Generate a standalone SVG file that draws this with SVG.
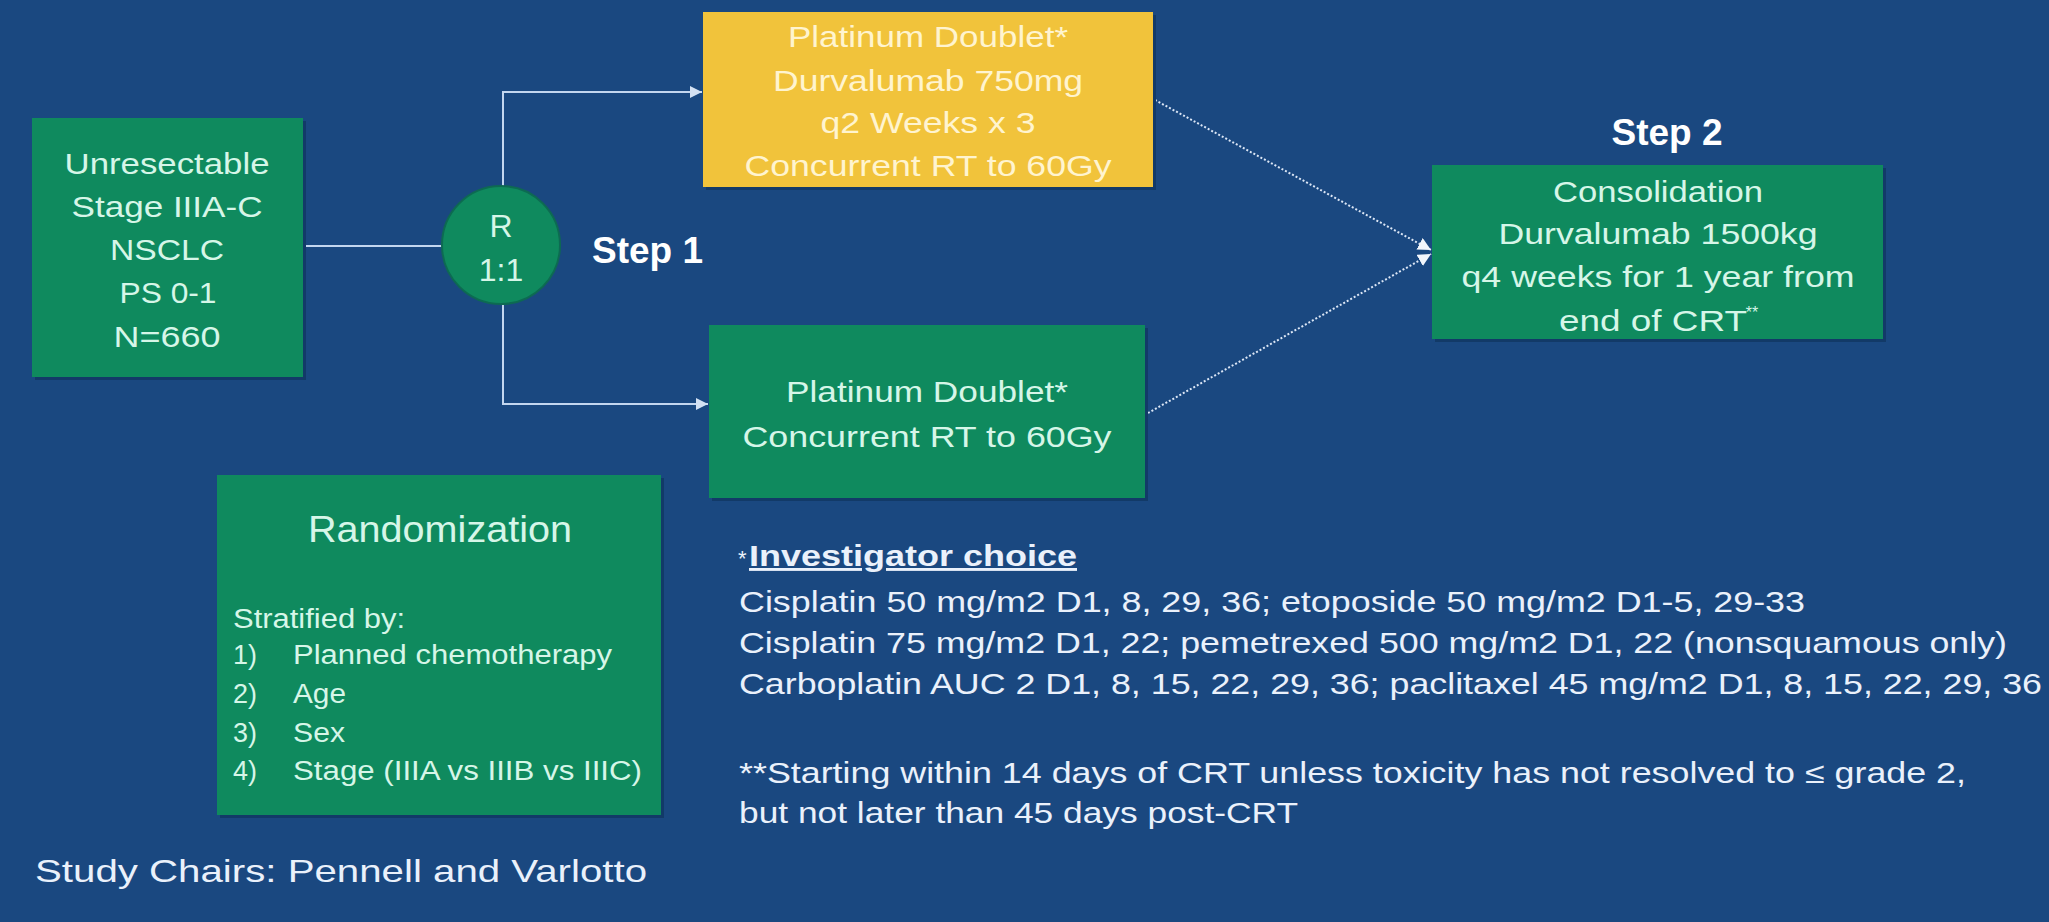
<svg xmlns="http://www.w3.org/2000/svg" width="2049" height="922" viewBox="0 0 2049 922">
  <style>
    .bg { fill: #1a4880; }
    .shadow { fill: #123a68; }
    .green { fill: #0f8a5e; }
    .yellow { fill: #f1c33b; }
    .t { font-family: "Liberation Sans", Arial, sans-serif; }
    .gt { fill: #d6f6e8; font-size: 30px; text-anchor: middle; }
    .yt { fill: #fff4cf; font-size: 30px; text-anchor: middle; }
    .step { fill: #ffffff; font-size: 37px; font-weight: bold; }
    .rt { fill: #d6f6e8; font-size: 32px; text-anchor: middle; }
    .lt { fill: #d6f6e8; font-size: 27px; }
    .note { fill: #eaf1fb; font-size: 29px; }
    .chairs { fill: #eaf1fb; font-size: 32px; }
    .conn { fill: none; stroke: #c3d6ef; stroke-width: 2; }
    .dot { fill: none; stroke: #dbe6f5; stroke-width: 2; stroke-dasharray: 2 2; }
  </style>
  <defs>
    <marker id="arr" viewBox="0 0 10 10" refX="10" refY="5" markerWidth="13" markerHeight="12" markerUnits="userSpaceOnUse" orient="auto">
      <path d="M0,0 L10,5 L0,10 z" fill="#d3e1f3"/>
    </marker>
    <marker id="arrw" viewBox="0 0 10 10" refX="10" refY="5" markerWidth="13" markerHeight="13" markerUnits="userSpaceOnUse" orient="auto">
      <path d="M0,0 L10,5 L0,10 z" fill="#f2f6fc"/>
    </marker>
  </defs>

  <rect class="bg" x="0" y="0" width="2049" height="922"/>

  <g id="connectors">
    <line class="conn" x1="303" y1="246" x2="442" y2="246"/>
    <polyline class="conn" points="503,186 503,92 702,92" marker-end="url(#arr)"/>
    <polyline class="conn" points="503,304 503,404 708,404" marker-end="url(#arr)"/>
    <line class="dot" x1="1155" y1="100" x2="1431" y2="250" marker-end="url(#arrw)"/>
    <line class="dot" x1="1148" y1="413" x2="1431" y2="254" marker-end="url(#arrw)"/>
  </g>

  <g id="node-population" class="t">
    <rect class="shadow" x="35" y="121" width="271" height="259"/>
    <rect class="green" x="32" y="118" width="271" height="259"/>
    <text class="gt" x="167" y="174" textLength="205" lengthAdjust="spacingAndGlyphs">Unresectable</text>
    <text class="gt" x="167" y="217" textLength="191" lengthAdjust="spacingAndGlyphs">Stage IIIA-C</text>
    <text class="gt" x="167" y="260" textLength="114" lengthAdjust="spacingAndGlyphs">NSCLC</text>
    <text class="gt" x="168" y="303" textLength="97" lengthAdjust="spacingAndGlyphs">PS 0-1</text>
    <text class="gt" x="167" y="347" textLength="107" lengthAdjust="spacingAndGlyphs">N=660</text>
  </g>

  <g id="node-randomize" class="t">
    <circle cx="501" cy="245" r="59" class="green" stroke="#0d6a52" stroke-width="2"/>
    <text class="rt" x="501" y="237">R</text>
    <text class="rt" x="501" y="281">1:1</text>
  </g>

  <g id="label-step1" class="t">
    <text class="step" x="592" y="263">Step 1</text>
  </g>

  <g id="node-arm-a" class="t">
    <rect class="shadow" x="706" y="15" width="450" height="175"/>
    <rect class="yellow" x="703" y="12" width="450" height="175"/>
    <text class="yt" x="928" y="47" textLength="280" lengthAdjust="spacingAndGlyphs">Platinum Doublet*</text>
    <text class="yt" x="928" y="91" textLength="310" lengthAdjust="spacingAndGlyphs">Durvalumab 750mg</text>
    <text class="yt" x="928" y="133" textLength="215" lengthAdjust="spacingAndGlyphs">q2 Weeks x 3</text>
    <text class="yt" x="928" y="176" textLength="367" lengthAdjust="spacingAndGlyphs">Concurrent RT to 60Gy</text>
  </g>

  <g id="node-arm-b" class="t">
    <rect class="shadow" x="712" y="328" width="436" height="173"/>
    <rect class="green" x="709" y="325" width="436" height="173"/>
    <text class="gt" x="927" y="402" textLength="282" lengthAdjust="spacingAndGlyphs">Platinum Doublet*</text>
    <text class="gt" x="927" y="447" textLength="369" lengthAdjust="spacingAndGlyphs">Concurrent RT to 60Gy</text>
  </g>

  <g id="label-step2" class="t">
    <text class="step" x="1667" y="145" text-anchor="middle">Step 2</text>
  </g>

  <g id="node-consolidation" class="t">
    <rect class="shadow" x="1435" y="168" width="451" height="174"/>
    <rect class="green" x="1432" y="165" width="451" height="174"/>
    <text class="gt" x="1658" y="202" textLength="210" lengthAdjust="spacingAndGlyphs">Consolidation</text>
    <text class="gt" x="1658" y="244" textLength="319" lengthAdjust="spacingAndGlyphs">Durvalumab 1500kg</text>
    <text class="gt" x="1658" y="287" textLength="393" lengthAdjust="spacingAndGlyphs">q4 weeks for 1 year from</text>
    <text class="gt" x="1653" y="331" textLength="188" lengthAdjust="spacingAndGlyphs">end of CRT</text>
    <text class="gt" x="1752" y="318" style="font-size:16px">**</text>
  </g>

  <g id="node-stratification" class="t">
    <rect class="shadow" x="220" y="478" width="444" height="340"/>
    <rect class="green" x="217" y="475" width="444" height="340"/>
    <text class="gt" x="440" y="542" style="font-size:37px" textLength="264" lengthAdjust="spacingAndGlyphs">Randomization</text>
    <text class="lt" x="233" y="628" textLength="172" lengthAdjust="spacingAndGlyphs">Stratified by:</text>
    <text class="lt" x="233" y="664">1)</text>
    <text class="lt" x="293" y="664" textLength="319" lengthAdjust="spacingAndGlyphs">Planned chemotherapy</text>
    <text class="lt" x="233" y="703">2)</text>
    <text class="lt" x="293" y="703" textLength="53" lengthAdjust="spacingAndGlyphs">Age</text>
    <text class="lt" x="233" y="742">3)</text>
    <text class="lt" x="293" y="742" textLength="52" lengthAdjust="spacingAndGlyphs">Sex</text>
    <text class="lt" x="233" y="780">4)</text>
    <text class="lt" x="293" y="780" textLength="349" lengthAdjust="spacingAndGlyphs">Stage (IIIA vs IIIB vs IIIC)</text>
  </g>

  <g id="study-chairs" class="t">
    <text class="chairs" x="35" y="882" textLength="612" lengthAdjust="spacingAndGlyphs">Study Chairs: Pennell and Varlotto</text>
  </g>

  <g id="footnotes" class="t">
    <text class="note" x="738" y="566" style="font-size:22px">*</text>
    <text class="note" x="749" y="566" style="font-weight:bold;text-decoration:underline" textLength="328" lengthAdjust="spacingAndGlyphs">Investigator choice</text>
    <text class="note" x="739" y="612" textLength="1066" lengthAdjust="spacingAndGlyphs">Cisplatin 50 mg/m2 D1, 8, 29, 36; etoposide 50 mg/m2 D1-5, 29-33</text>
    <text class="note" x="739" y="653" textLength="1268" lengthAdjust="spacingAndGlyphs">Cisplatin 75 mg/m2 D1, 22; pemetrexed 500 mg/m2 D1, 22 (nonsquamous only)</text>
    <text class="note" x="739" y="694" textLength="1303" lengthAdjust="spacingAndGlyphs">Carboplatin AUC 2 D1, 8, 15, 22, 29, 36; paclitaxel 45 mg/m2 D1, 8, 15, 22, 29, 36</text>
    <text class="note" x="739" y="783" textLength="1227" lengthAdjust="spacingAndGlyphs">**Starting within 14 days of CRT unless toxicity has not resolved to ≤ grade 2,</text>
    <text class="note" x="739" y="823" textLength="559" lengthAdjust="spacingAndGlyphs">but not later than 45 days post-CRT</text>
  </g>
</svg>
